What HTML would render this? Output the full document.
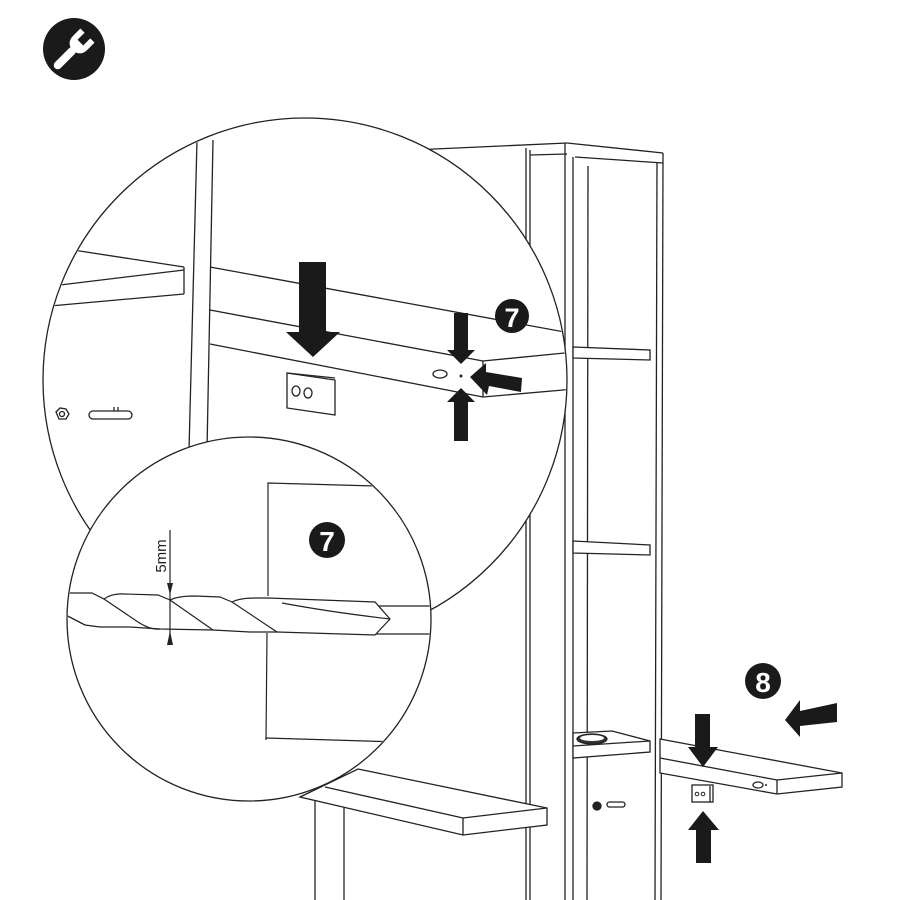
<!DOCTYPE html>
<html><head><meta charset="utf-8"><style>
html,body{margin:0;padding:0;background:#fff;}
svg{display:block;}
</style></head><body>
<svg width="900" height="900" viewBox="0 0 900 900" xmlns="http://www.w3.org/2000/svg" font-family="Liberation Sans, sans-serif">
<rect width="900" height="900" fill="#fff"/>
<!-- wrench icon -->
<circle cx="74" cy="49" r="31" fill="#1a1a1a"/>
<g transform="rotate(45 74 49)" fill="#fff">
  <rect x="70" y="48" width="8" height="28" rx="4"/>
  <path d="M64,30 L64,40 Q64,50 74,51 Q84,50 84,40 L84,30 L78,30 L78,40 L70,40 L70,30 Z"/>
</g>

<g stroke="#222" stroke-width="1.3" fill="none">
<!-- cabinet -->
<line x1="413" y1="150" x2="567" y2="143"/>
<line x1="567" y1="143" x2="663" y2="153"/>
<line x1="530" y1="155" x2="567" y2="154"/>
<line x1="575" y1="157" x2="663" y2="163"/>
<line x1="526" y1="148" x2="526" y2="900"/>
<line x1="530" y1="150" x2="530" y2="900"/>
<line x1="565" y1="143" x2="565" y2="900"/>
<line x1="573" y1="157" x2="573" y2="900"/>
<line x1="588" y1="166" x2="587" y2="900"/>
<line x1="657" y1="162" x2="655" y2="900"/>
<line x1="663" y1="153" x2="661" y2="900"/>
<!-- column shelves -->
<polygon points="573,347 650,350 650,360 573,358" fill="#fff"/>
<polygon points="573,541 650,545 650,555 573,553" fill="#fff"/>
<polygon points="573,733 612,731 650,741 650,752 573,758" fill="#fff"/>
<line x1="573" y1="746" x2="650" y2="741"/>
<ellipse cx="592" cy="739" rx="15" ry="5" fill="#333"/>
<ellipse cx="592" cy="738" rx="12" ry="3" fill="#fff" stroke="none"/>
<!-- nut & pin -->
<circle cx="597" cy="806" r="4" fill="#222"/>
<rect x="607" y="802" width="18" height="5" rx="2.5" fill="#fff"/>
<!-- lower-left shelf -->
<line x1="315" y1="797" x2="315" y2="900"/>
<line x1="344" y1="800" x2="344" y2="900"/>
<polygon points="300,797 358,769 547,808 547,825 463,835" fill="#fff"/>
<polyline points="325,787 463,818 547,808"/>
<line x1="463" y1="818" x2="463" y2="835"/>
<!-- right shelf (8) -->
<polygon points="660,739 842,773 842,787 777,794 660,773" fill="#fff"/>
<polyline points="660,758 777,780 842,773"/>
<line x1="777" y1="780" x2="777" y2="794"/>
<ellipse cx="758" cy="785" rx="5" ry="3"/>
<rect x="692" y="785" width="21" height="17" fill="#fff"/>
<line x1="710" y1="786" x2="710" y2="802"/>
</g>
<circle cx="697" cy="794" r="1.8" fill="none" stroke="#222"/>
<circle cx="703" cy="794" r="1.8" fill="none" stroke="#222"/>
<circle cx="766" cy="785" r="1" fill="#222"/>
<!-- arrows 8 -->
<g fill="#1a1a1a">
<polygon points="695,714 710,714 710,747 718,747 703,767 688,747 695,747"/>
<polygon points="696,863 711,863 711,830 719,830 703,811 688,830 696,830"/>
<polygon points="837,703 837,722 800,726 800,737 785,720 800,700 800,711"/>
</g>
<circle cx="763" cy="681" r="18" fill="#1a1a1a"/>
<text x="763" y="692" font-size="28" fill="#fff" text-anchor="middle" font-weight="bold">8</text>

<!-- big circle -->
<circle cx="305" cy="380" r="262" fill="#fff" stroke="#222" stroke-width="1.3"/>
<clipPath id="big"><circle cx="305" cy="380" r="261"/></clipPath>
<g clip-path="url(#big)" stroke="#222" stroke-width="1.3" fill="none">
  <line x1="197" y1="140" x2="189" y2="450"/>
  <line x1="213" y1="140" x2="207" y2="450"/>
  <line x1="60" y1="248" x2="184" y2="267"/>
  <line x1="60" y1="285" x2="184" y2="270"/>
  <line x1="50" y1="306" x2="184" y2="294"/>
  <line x1="184" y1="267" x2="184" y2="294"/>
  <line x1="210" y1="267" x2="570" y2="333"/>
  <line x1="210" y1="310" x2="483" y2="361"/>
  <line x1="483" y1="361" x2="575" y2="352"/>
  <line x1="210" y1="344" x2="483" y2="397"/>
  <line x1="483" y1="397" x2="575" y2="389"/>
  <line x1="483" y1="361" x2="483" y2="397"/>
  <polygon points="287,373 335,380 335,415 287,408" fill="#fff"/>
  <line x1="287" y1="373" x2="335" y2="378"/>
  <ellipse cx="296" cy="391" rx="4" ry="5"/>
  <ellipse cx="308" cy="393" rx="4" ry="5"/>
  <polygon points="56,412 60,408 66,409 69,414 66,419 59,419"/>
  <circle cx="62" cy="414" r="2.5"/>
  <rect x="89" y="411" width="43" height="8" rx="4"/>
  <line x1="114" y1="411" x2="114" y2="407"/>
  <line x1="118" y1="411" x2="118" y2="407"/>
  <ellipse cx="440" cy="374" rx="7" ry="4"/>
</g>
<circle cx="461" cy="376" r="1.5" fill="#222"/>
<g fill="#1a1a1a">
  <polygon points="299,262 326,262 326,332 340,332 313,357 286,332 299,332"/>
  <polygon points="454,313 468,313 468,350 475,350 461,364 447,350 454,350"/>
  <polygon points="454,441 468,441 468,402 475,402 461,388 447,402 454,402"/>
  <polygon points="522,378 521,392 489,386 487,395 470,377 486,363 486,372"/>
</g>
<circle cx="512" cy="316" r="17" fill="#1a1a1a"/>
<text x="512" y="327" font-size="27" fill="#fff" text-anchor="middle" font-weight="bold">7</text>

<!-- small circle -->
<circle cx="249" cy="619" r="182" fill="#fff" stroke="#222" stroke-width="1.3"/>
<clipPath id="sm"><circle cx="249" cy="619" r="181"/></clipPath>
<g clip-path="url(#sm)" stroke="#222" stroke-width="1.2" fill="none">
  <polyline points="268,596 268,483 375,486"/>
  <line x1="267" y1="633" x2="266" y2="740"/>
  <line x1="266" y1="738" x2="400" y2="742"/>
  <line x1="375" y1="606" x2="440" y2="606"/>
  <line x1="375" y1="634" x2="440" y2="634"/>
  <path d="M60,593 L92,593 L104,599 Q112,593 125,594 L158,595 L170,600 Q178,596 195,596 L220,597 L232,602 Q240,598 255,598 L268,598 L375,602 L390,619 L375,635 L277,632 L250,632 L213,630 L160,629 L130,627 L100,627 L85,625 L60,612" fill="#fff"/>
  <line x1="104" y1="599" x2="138" y2="622"/>
  <path d="M138,622 Q150,630 160,629"/>
  <line x1="170" y1="600" x2="213" y2="630"/>
  <line x1="232" y1="602" x2="277" y2="632"/>
  <path d="M60,612 L85,625"/>
  <path d="M282,603 Q330,612 390,619"/>
  <line x1="170" y1="530" x2="170" y2="645"/>
</g>
<polygon points="167,583 173,583 170,595" fill="#222"/>
<polygon points="167,645 173,645 170,631" fill="#222"/>
<text transform="translate(166,556) rotate(-90)" font-size="15" fill="#222" text-anchor="middle">5mm</text>
<circle cx="327" cy="540" r="18" fill="#1a1a1a"/>
<text x="327" y="551" font-size="28" fill="#fff" text-anchor="middle" font-weight="bold">7</text>
</svg>
</body></html>
